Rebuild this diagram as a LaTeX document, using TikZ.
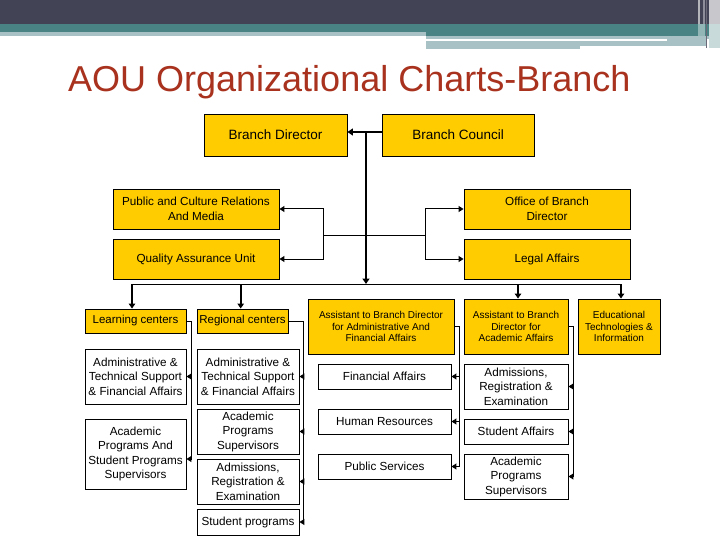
\documentclass[tikz,border=0pt]{standalone}
\usepackage{fontspec}
\setmainfont{Liberation Sans}
\usetikzlibrary{arrows.meta,calc}
\definecolor{gold}{HTML}{FFCC00}
\definecolor{hdrdark}{HTML}{434356}
\definecolor{hdrteal}{HTML}{4A8383}
\definecolor{hdrlight}{HTML}{A7C1C5}
\definecolor{titlered}{HTML}{A8321E}
\newcommand\fTop{\fontsize{13.5pt}{16pt}\selectfont}
\newcommand\fMid{\fontsize{11.7pt}{14.5pt}\selectfont}
\newcommand\fCen{\fontsize{11.5pt}{14pt}\selectfont}
\newcommand\fAsst{\fontsize{10pt}{11.7pt}\selectfont}
\newcommand\fWht{\fontsize{11.7pt}{14.5pt}\selectfont}
\begin{document}
\begin{tikzpicture}[x=1pt,y=-1pt,
  box/.style={draw=black, line width=0.9pt, inner sep=0pt, align=center},
  goldbox/.style={box, fill=gold},
  whitebox/.style={box, fill=white, font=\fWht},
  sz/.style 2 args={minimum width=#1pt, minimum height=#2pt},
  conn/.style={line width=1pt},
  arr/.style={line width=1pt, -{Triangle[length=5pt,width=6pt]}},
  droparr/.style={line width=1.6pt, -{Triangle[length=5pt,width=6.5pt]}},
  thickarr/.style={line width=1.8pt, -{Triangle[length=5.5pt,width=7pt]}}
]
\useasboundingbox (0,0) rectangle (720,540);
% header
\fill[white] (0,0) rectangle (720,540);
\fill[hdrdark] (0,0) rectangle (720,24);
\fill[hdrteal] (0,24) rectangle (720,32);
\fill[hdrlight] (0,32) rectangle (426,36);
\fill[hdrteal] (426,32) rectangle (720,36);
\fill[hdrlight] (426,36) rectangle (720,39);
\fill[hdrlight] (426,41.5) rectangle (580,49);
\fill[hdrlight] (580,41.5) rectangle (707,46);
\fill[hdrlight] (667,36) rectangle (707,46);
\fill[white!60!hdrdark] (698,0) rectangle (700,24);
\fill[white!40!hdrdark] (703,0) rectangle (705,24);
\fill[white!70!hdrdark] (709,0) rectangle (720,24);
\fill[white!40!hdrteal] (698,24) rectangle (705,36);
\fill[white!70!hdrteal] (709,24) rectangle (720,48);
\draw[hdrdark!80, line width=1pt] (706.5,0) -- (706.5,48);
% title
\node[anchor=base west, text=titlered, font=\fontsize{36pt}{40pt}\selectfont, inner sep=0pt] (title) at (68,92) {AOU Organizational Charts-Branch};
% top boxes
\node[goldbox, sz={143}{42}, font=\fTop] (bd) at (275.5,135) {Branch Director};
\node[goldbox, sz={151.5}{42}, font=\fTop] (bc) at (458.2,135) {Branch Council};
\node[goldbox, sz={166}{40}, font=\fMid] (pub) at (196,209) {Public and Culture Relations\\And Media};
\node[goldbox, sz={166}{40}, font=\fMid] (qa) at (196,259) {Quality Assurance Unit};
\node[goldbox, sz={166}{40}, font=\fMid] (off) at (547,209) {Office of Branch\\Director};
\node[goldbox, sz={166}{40}, font=\fMid] (legal) at (547,259) {Legal Affairs};
% third row
\node[goldbox, sz={101}{24}, font=\fCen] (lc) at (135.5,321) {Learning centers};
\node[goldbox, sz={91}{24}, font=\fCen] (rc) at (242.5,321) {Regional centers};
\node[goldbox, sz={146}{55}, font=\fAsst] (aadm) at (381,326.5) {Assistant to Branch Director\\for Administrative And\\Financial Affairs};
\node[goldbox, sz={104}{55}, font=\fAsst] (aacad) at (516,326.5) {Assistant to Branch\\Director for\\Academic Affairs};
\node[goldbox, sz={82}{55}, font=\fAsst] (edu) at (619,326.5) {Educational\\Technologies \&\\Information};
% white boxes
\node[whitebox, sz={101}{55}] (lc1) at (135.5,376.5) {Administrative \&\\Technical Support\\\& Financial Affairs};
\node[whitebox, sz={101}{70}] (lc2) at (135.5,454) {Academic\\Programs And\\Student Programs\\Supervisors};
\node[whitebox, sz={102}{55}] (rc1) at (248,376.5) {Administrative \&\\Technical Support\\\& Financial Affairs};
\node[whitebox, sz={102}{45}] (rc2) at (248,431.5) {Academic\\Programs\\Supervisors};
\node[whitebox, sz={102}{45}] (rc3) at (248,481.5) {Admissions,\\Registration \&\\Examination};
\node[whitebox, sz={102}{26}] (rc4) at (248,522) {Student programs};
\node[whitebox, sz={133}{25}] (fa) at (384.5,376.5) {Financial Affairs};
\node[whitebox, sz={133}{25}] (hr) at (384.5,421.5) {Human Resources};
\node[whitebox, sz={133}{25}] (ps) at (384.5,466.5) {Public Services};
\node[whitebox, sz={104}{45}] (adm) at (516,386.5) {Admissions,\\Registration \&\\Examination};
\node[whitebox, sz={104}{25}] (sa) at (516,431.5) {Student Affairs};
\node[whitebox, sz={104}{45}] (aps) at (516,476.5) {Academic\\Programs\\Supervisors};
% top connectors
\coordinate (top) at (366,132);
\coordinate (hub) at (366,284);
\draw[thickarr] (bc.west |- top) -- (bd.east |- top);
\draw[thickarr] (top) -- (hub);
\coordinate (lb) at (323.6,235);
\coordinate (rb) at (425,235);
\draw[conn] (lb) -- (rb);
\draw[arr] (lb) |- (pub.east);
\draw[arr] (lb) |- (qa.east);
\draw[arr] (rb) |- (off.west);
\draw[arr] (rb) |- (legal.west);
% bus
\coordinate (busL) at (132,284);
\coordinate (busRC) at (240.7,284);
\coordinate (busAA) at (518,284);
\coordinate (busR) at (621,284);
\draw[conn] (busL) -- (busR);
\draw[droparr] (busL) -- (busL |- lc.north);
\draw[droparr] (busRC) -- (busRC |- rc.north);
\draw[droparr] (busAA) -- (busAA |- aacad.north);
\draw[droparr] (busR) -- (busR |- edu.north);
% learning centers
\coordinate (lcv) at (191,0);
\coordinate (lc2a) at ([yshift=-5pt]lc2.east);
\draw[conn] (lc.east) -- (lc.east -| lcv) -- (lc2a -| lcv);
\draw[arr] (lc1.east -| lcv) -- (lc1.east);
\draw[arr] (lc2a -| lcv) -- (lc2a);
% regional centers
\coordinate (rcv) at (303,0);
\draw[conn] (rc.east) -- (rc.east -| rcv) -- (rc4.east -| rcv);
\foreach \b in {rc1,rc2,rc3,rc4} \draw[arr] (\b.east -| rcv) -- (\b.east);
% assistant admin
\coordinate (aav) at (459,0);
\draw[conn] (aadm.east) -- (aadm.east -| aav) -- (ps.east -| aav);
\foreach \b in {fa,hr,ps} \draw[arr] (\b.east -| aav) -- (\b.east);
% assistant academic
\coordinate (acv) at (573,0);
\draw[conn] (aacad.east) -- (aacad.east -| acv) -- (aps.east -| acv);
\foreach \b in {adm,sa,aps} \draw[arr] (\b.east -| acv) -- (\b.east);
\end{tikzpicture}
\end{document}
